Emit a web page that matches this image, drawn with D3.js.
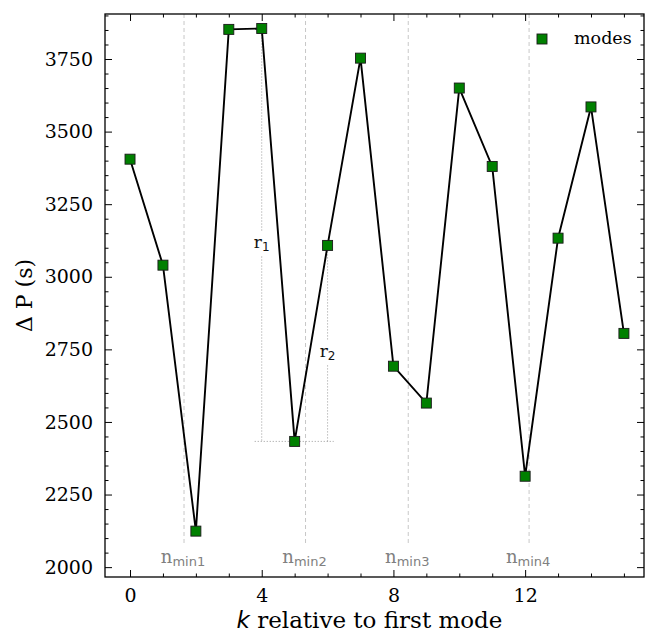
<!DOCTYPE html>
<html><head><meta charset="utf-8">
<script src="https://cdn.jsdelivr.net/npm/d3@7"></script>
<style>
body{margin:0;background:#fff;}
svg{display:block;}
text{font-family:"DejaVu Serif",serif;}
</style></head>
<body>
<div id="chart"></div>
<script>
const kValues = [0,1,2,3,4,5,6,7,8,9,10,11,12,13,14,15];
const periodSpacing = [3405,3040,2124,3852,3855,2433,3108,3753,2692,2565,3650,3380,2313,3133,3585,2805];
const nminPositions = [1.64,5.33,8.45,12.12];
const nminLabels = ["min1","min2","min3","min4"];
const xMajorTicks = [0,4,8,12];
const yMajorTicks = [2000,2250,2500,2750,3000,3250,3500,3750];
const seriesName = "modes";

(function(){
const W=648,H=635;
const L=105,R=644,T=14,B=577;
const svg=d3.select("#chart").append("svg").attr("width",W).attr("height",H);
const x=d3.scaleLinear().domain([-0.76,15.61]).range([L,R]);
const y=d3.scaleLinear().domain([1966,3905]).range([B,T]);

// n_min dashed lines
svg.selectAll("line.nmin").data(nminPositions).enter().append("line")
  .attr("x1",d=>x(d)).attr("x2",d=>x(d)).attr("y1",T).attr("y2",545)
  .attr("stroke","#c8c8c8").attr("stroke-width",1).attr("stroke-dasharray","4,3");
const nl=svg.selectAll("text.nmin").data(nminPositions).enter().append("text")
  .attr("x",d=>x(d)-1).attr("y",563).attr("text-anchor","middle").attr("fill","#808080");
nl.append("tspan").attr("font-size",18).text("n");
nl.append("tspan").attr("font-size",13).attr("dy",3).attr("font-family","DejaVu Sans").text((d,i)=>nminLabels[i]);

// r1 / r2 annotations
const kmin=5, k1=4, k2=6;
const ymin=y(periodSpacing[kmin]);
const dotted={"stroke":"#999","stroke-width":1,"stroke-dasharray":"1,2"};
function dl(x1,y1,x2,y2){const l=svg.append("line").attr("x1",x1).attr("y1",y1).attr("x2",x2).attr("y2",y2);for(const k in dotted)l.attr(k,dotted[k]);}
dl(x(k1)-7,ymin,x(k2)+6,ymin);
dl(x(k1),y(periodSpacing[k1]),x(k1),ymin);
dl(x(k2),y(periodSpacing[k2]),x(k2),ymin);
function rlab(cx,cy,sub){
  svg.append("rect").attr("x",cx-9).attr("y",cy-11).attr("width",18).attr("height",23).attr("fill","#fff");
  const t=svg.append("text").attr("x",cx).attr("y",cy+5).attr("text-anchor","middle").attr("fill","#111");
  t.append("tspan").attr("font-size",17).text("r");
  t.append("tspan").attr("font-size",12).attr("dy",3).attr("font-family","DejaVu Sans").text(sub);
}
rlab(x(k1),243,"1");
rlab(x(k2),352,"2");

// line + markers
svg.append("path").datum(kValues.map((k,i)=>[k,periodSpacing[i]]))
  .attr("d",d3.line().x(d=>x(d[0])).y(d=>y(d[1])))
  .attr("fill","none").attr("stroke","#000").attr("stroke-width",1.9);
svg.selectAll("rect.pt").data(kValues).enter().append("rect")
  .attr("x",(d,i)=>x(d)-5).attr("y",(d,i)=>y(periodSpacing[i])-5)
  .attr("width",10).attr("height",10).attr("fill","#008000").attr("stroke","#1a1a1a").attr("stroke-width",0.9);

// axes
const fs=19;
function ax(gen,tr){return svg.append("g").attr("transform",tr).call(gen);}
const xMinor=d3.range(0,16,1), yMinor=d3.range(1950,3901,50).filter(v=>v>=1966);
ax(d3.axisBottom(x).tickValues(xMajorTicks).tickSize(-7).tickPadding(12).tickFormat(d3.format("d")),`translate(0,${B})`);
ax(d3.axisTop(x).tickValues(xMajorTicks).tickSize(-7).tickFormat(""),`translate(0,${T})`);
ax(d3.axisLeft(y).tickValues(yMajorTicks).tickSize(-7).tickPadding(12).tickFormat(d3.format("d")),`translate(${L},0)`);
ax(d3.axisRight(y).tickValues(yMajorTicks).tickSize(-7).tickFormat(""),`translate(${R},0)`);
ax(d3.axisBottom(x).tickValues(xMinor.filter(v=>!xMajorTicks.includes(v))).tickSize(-3.5).tickFormat(""),`translate(0,${B})`);
ax(d3.axisTop(x).tickValues(xMinor.filter(v=>!xMajorTicks.includes(v))).tickSize(-3.5).tickFormat(""),`translate(0,${T})`);
ax(d3.axisLeft(y).tickValues(yMinor.filter(v=>!yMajorTicks.includes(v))).tickSize(-3.5).tickFormat(""),`translate(${L},0)`);
ax(d3.axisRight(y).tickValues(yMinor.filter(v=>!yMajorTicks.includes(v))).tickSize(-3.5).tickFormat(""),`translate(${R},0)`);
svg.selectAll(".domain").remove();
svg.selectAll(".tick line").attr("stroke","#000").attr("stroke-width",1);
svg.selectAll(".tick text").attr("font-family","DejaVu Serif").attr("font-size",fs).attr("fill","#000");
svg.append("rect").attr("x",L).attr("y",T).attr("width",R-L).attr("height",B-T).attr("fill","none").attr("stroke","#000").attr("stroke-width",1.3);

// axis labels
const xl=svg.append("text").attr("x",(L+R)/2-5).attr("y",628).attr("text-anchor","middle").attr("font-size",23);
xl.append("tspan").attr("font-style","italic").attr("font-family","DejaVu Sans").text("k");
xl.append("tspan").text(" relative to first mode");
svg.append("text").attr("transform",`translate(32,${(T+B)/2}) rotate(-90)`).attr("text-anchor","middle").attr("font-size",22).text("Δ P (s)");

// legend
svg.append("rect").attr("x",537).attr("y",34).attr("width",10).attr("height",10).attr("fill","#008000").attr("stroke","#1a1a1a").attr("stroke-width",0.9);
svg.append("text").attr("x",574).attr("y",44).attr("font-size",17.5).text(seriesName);
})();
</script>
</body></html>
